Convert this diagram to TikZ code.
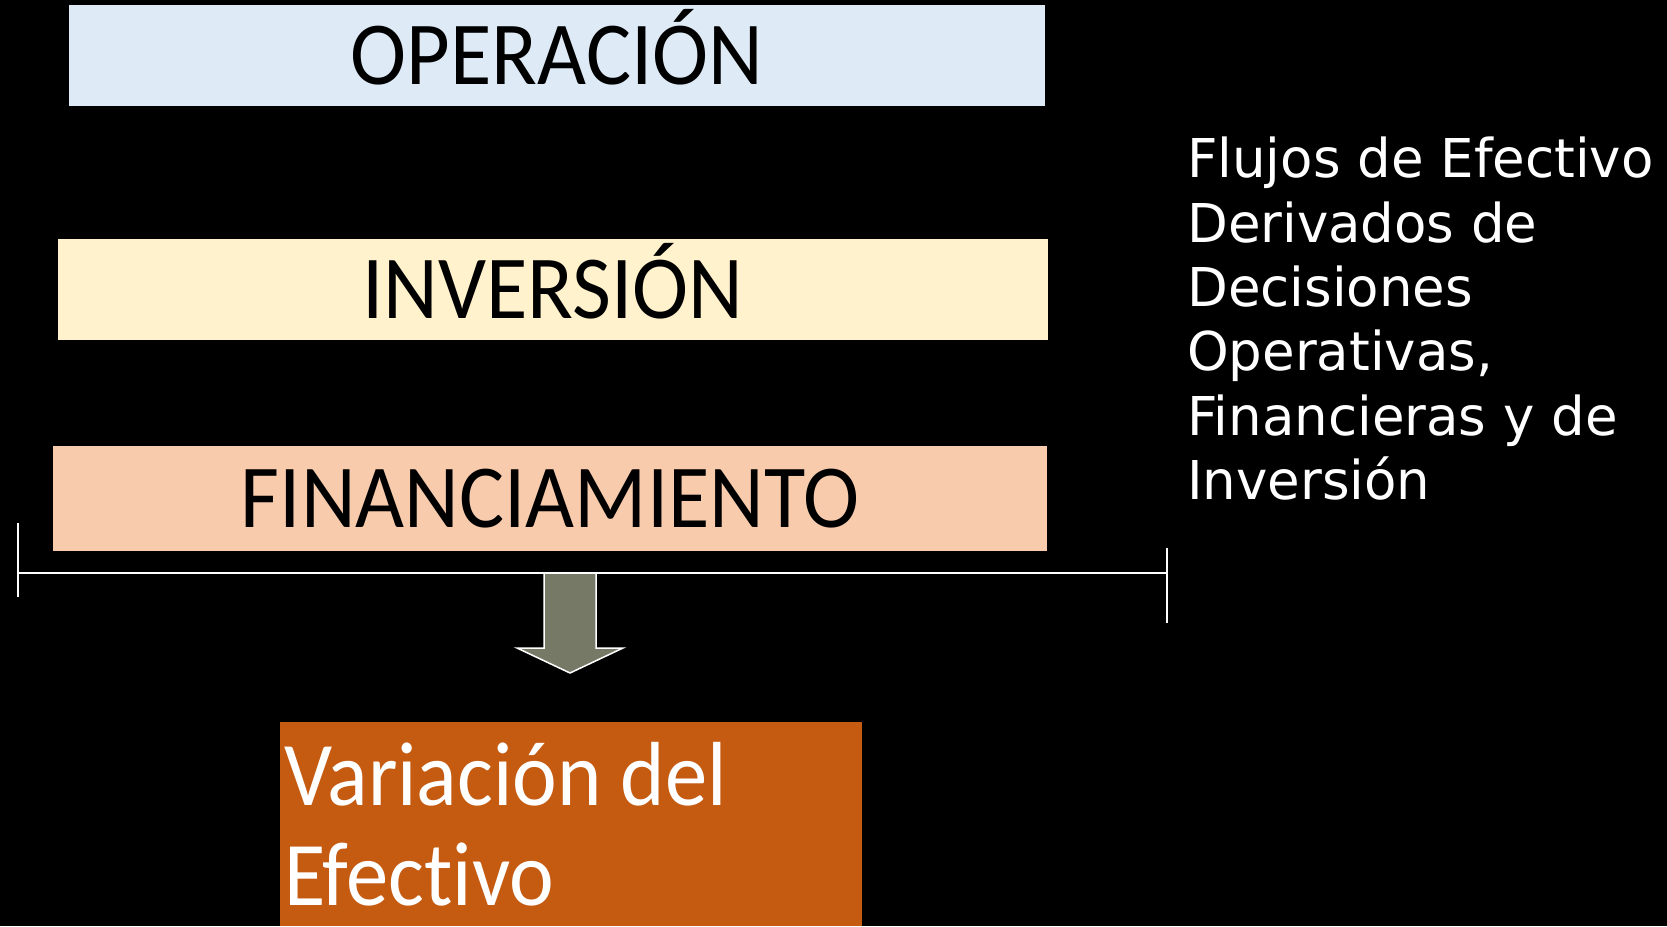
\documentclass[tikz,border=0pt]{standalone}
\usepackage{fontspec}
\newfontfamily\boxfont{Carlito}[FakeStretch=0.94, Ligatures=NoCommon]
\newfontfamily\varfont{Carlito}[FakeStretch=0.93, Ligatures=NoCommon]
\newfontfamily\notefont{DejaVu Sans}[FakeStretch=0.99]
\definecolor{opblue}{HTML}{DEEBF7}
\definecolor{invyellow}{HTML}{FFF2CC}
\definecolor{finpeach}{HTML}{F8CBAD}
\definecolor{varorange}{HTML}{C55A11}
\definecolor{arrowgray}{HTML}{767966}

\begin{document}
\begin{tikzpicture}[x=1pt,y=-1pt,
  flowbox/.style={inner sep=0pt, minimum height=101pt, text=black,
    text height=57pt, text depth=0pt,
    font=\boxfont\fontsize{90}{90}\selectfont},
  bracket/.style={white, line width=2pt}]

  \fill[black] (0,0) rectangle (1667,926);
  \useasboundingbox (0,0) rectangle (1667,926);

  \node[flowbox, fill=opblue, minimum width=976pt] (oper) at (557,55.5) {OPERACIÓN};
  \node[flowbox, fill=invyellow, minimum width=990pt] (inv) at (553,289.5) {INVERSIÓN};
  \node[flowbox, fill=finpeach, minimum width=994pt, minimum height=105pt] (fin) at (550,498.5) {FINANCIAMIENTO};

  \node[text=white, align=left, anchor=north west, inner sep=0pt,
    font=\notefont\fontsize{53.5}{64.3}\selectfont] (note) at (1187,137)
    {Flujos de Efectivo\\Derivados de\\Decisiones\\Operativas,\\Financieras y de\\Inversión};

  \coordinate (brl) at (18,573);
  \coordinate (brr) at (1167,573);
  \draw[bracket] (brl) -- (brr);
  \draw[bracket] (18,523) -- (18,597);
  \draw[bracket] (1167,548) -- (1167,623);

  \draw[white, line width=1.5pt, fill=arrowgray] (544,573) -- (596,573) -- (596,648) -- (623,648)
    -- (570,673) -- (517,648) -- (544,648) -- cycle;

  \node[fill=varorange, minimum width=582pt, minimum height=204pt, inner sep=0pt,
    anchor=north west] (varbox) at (280,722) {};
  \node[text=white, align=left, anchor=north west, inner sep=0pt,
    font=\varfont\fontsize{91}{100}\selectfont] (var) at (284,742) {Variación del\\Efectivo};

\end{tikzpicture}
\end{document}
